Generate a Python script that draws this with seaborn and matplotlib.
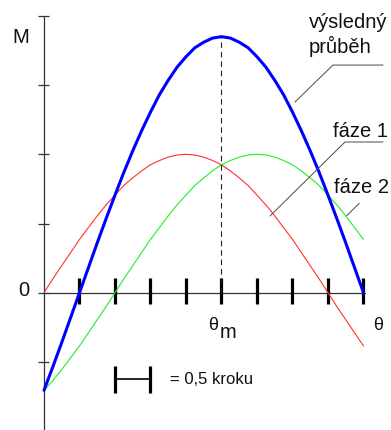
import matplotlib
matplotlib.use('Agg')
import matplotlib.pyplot as plt
import pandas as pd
import seaborn as sns

# poloha v půlkrocích (0 .. 9), čtená po 0,25
theta = [i * 0.25 for i in range(37)]
faze1 = [0, 0.20, 0.39, 0.58, 0.77, 0.94, 1.11, 1.27, 1.41, 1.55, 1.66, 1.76,
         1.85, 1.91, 1.96, 1.99, 2.00, 1.99, 1.96, 1.91, 1.85, 1.76, 1.66,
         1.55, 1.41, 1.27, 1.11, 0.94, 0.77, 0.58, 0.39, 0.20, 0, -0.20,
         -0.39, -0.58, -0.77]
faze2 = [-1.41, -1.27, -1.11, -0.94, -0.77, -0.58, -0.39, -0.20, 0, 0.20,
         0.39, 0.58, 0.77, 0.94, 1.11, 1.27, 1.41, 1.55, 1.66, 1.76, 1.85,
         1.91, 1.96, 1.99, 2.00, 1.99, 1.96, 1.91, 1.85, 1.76, 1.66, 1.55,
         1.41, 1.27, 1.11, 0.94, 0.77]
vysledny = [-1.41, -1.07, -0.72, -0.36, 0, 0.36, 0.72, 1.07, 1.41, 1.74, 2.05,
            2.34, 2.61, 2.86, 3.07, 3.26, 3.41, 3.54, 3.62, 3.68, 3.70, 3.68,
            3.62, 3.54, 3.41, 3.26, 3.07, 2.86, 2.61, 2.34, 2.05, 1.74, 1.41,
            1.07, 0.72, 0.36, 0]

step_ticks = [1, 2, 3, 4, 5, 6, 7, 8, 9]
m_ticks = [-1, 0, 1, 2, 3, 4]
theta_m = 5
m_max = 3.70

df = pd.DataFrame({'theta': theta, 'faze 1': faze1, 'faze 2': faze2,
                   'vysledny': vysledny})

sns.set_theme(style='white')
plt.rcParams['font.family'] = ['Liberation Sans', 'DejaVu Sans']

fig = plt.figure(figsize=(3.91, 4.30), dpi=100)
ax = fig.add_axes([0, 0, 1, 1])

# osy
ax.plot([0, 0], [-1.99, 4.0], color='#333333', lw=0.9)
ax.plot([0, 9.04], [0, 0], color='#333333', lw=0.9)
ax.hlines(m_ticks, -0.17, 0.14, color='#333333', lw=0.9)
ax.vlines(step_ticks, -0.163, 0.212, color='black', lw=2.3)

# průběhy
sns.lineplot(data=df, x='theta', y='faze 1', color='#ff3030', lw=0.8, ax=ax)
sns.lineplot(data=df, x='theta', y='faze 2', color='#22ee22', lw=0.8, ax=ax)
sns.lineplot(data=df, x='theta', y='vysledny', color='#0000ff', lw=2.2, ax=ax)
ax.set_xlim(-1.239, 9.775)
ax.set_ylim(-1.984, 4.230)
ax.axis('off')

ax.plot([theta_m, theta_m], [0, m_max], color='#222222', lw=0.8,
        dashes=(5, 3.5))

# odkazové čáry
lc = '#555555'
ax.plot([7.07, 8.14, 9.55], [2.756, 3.290, 3.290], color=lc, lw=0.75)
ax.plot([6.366, 8.479, 9.549], [1.108, 2.178, 2.178], color=lc, lw=0.75)
ax.plot([8.527, 8.882], [1.113, 1.292], color=lc, lw=0.75)

fs = 14.5
tc = '#111111'
ax.text(-0.648, 3.689, 'M', fontsize=fs, color=tc, ha='center', va='center')
ax.text(-0.563, 0.039, '0', fontsize=fs, color=tc, ha='center', va='center')
ax.text(7.465, 3.824, 'výsledný', fontsize=fs, color=tc, va='baseline')
ax.text(7.465, 3.463, 'průběh', fontsize=fs, color=tc, va='baseline')
ax.text(8.14, 2.250, 'fáze 1', fontsize=fs, color=tc, va='baseline')
ax.text(8.18, 1.436, 'fáze 2', fontsize=fs, color=tc, va='baseline')
ax.text(9.40, -0.474, 'θ', fontsize=13, color=tc, ha='center', va='center')
ax.text(4.76, -0.473, 'θ', fontsize=13, color=tc, ha='center', va='center')
ax.text(4.958, -0.655, 'm', fontsize=fs, color=tc, va='baseline')

# měřítko
ax.vlines([2, 3], -1.445, -1.059, color='black', lw=2.3)
ax.plot([2, 3], [-1.247, -1.247], color='black', lw=1.2)
ax.text(3.549, -1.251, '= 0,5 kroku', fontsize=12, color=tc, va='center')

fig.savefig('out.png', dpi=100, facecolor='white')
